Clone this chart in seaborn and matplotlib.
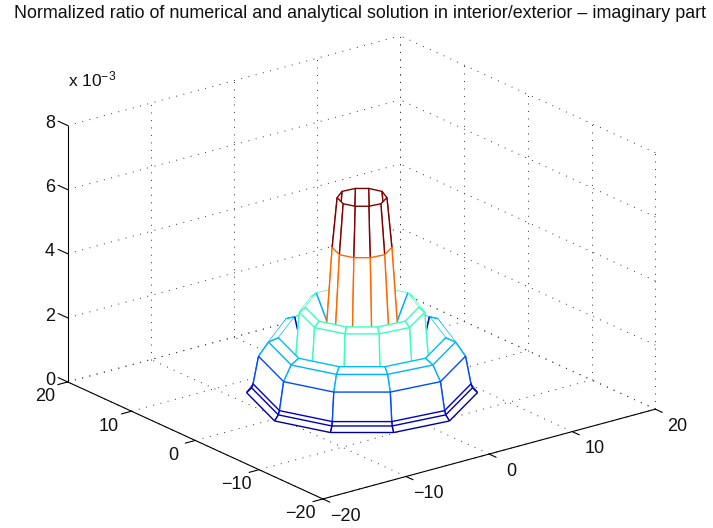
import numpy as np
import seaborn as sns
import matplotlib
matplotlib.use('Agg')
import matplotlib.pyplot as plt
from mpl_toolkits.mplot3d.art3d import Poly3DCollection

# values
angles_deg = [-173.5, -142.5, -112.5, -81.5, -39.5, 2.5, 37.5, 67.5, 102.5, 144.5]
angle_scale = [1.0, 1.0, 1.0, 1.0, 0.95, 1.0, 1.0, 1.0, 1.0, 0.95]
ring_radius = [2.5, 3.0, 3.7, 5.7, 6.3, 6.9, 8.4, 9.4, 10.4, 10.95, 11.1, 11.6]
ring_height = [6.2, 4.65, 1.6, 2.79, 2.64, 0.3, 1.85, 1.72, 1.28, 0.42, 0.3, 0.15]
ring_level = [1.0, 0.8, 0.3, 0.42, 0.42, 0.07, 0.31, 0.3, 0.2, 0.07, 0.05, 0.03]
xy_ticks = [-20, -10, 0, 10, 20]
z_ticks = [0, 2, 4, 6, 8]
title = 'Normalized ratio of numerical and analytical solution in interior/exterior \u2013 imaginary part'

sns.set_style('white')
plt.rcParams['font.family'] = ['Liberation Sans', 'DejaVu Sans']
plt.rcParams['mathtext.fontset'] = 'custom'
plt.rcParams['mathtext.rm'] = 'Liberation Sans'
plt.rcParams['mathtext.default'] = 'regular'

fig = plt.figure(figsize=(7.13, 5.28), dpi=100)
# square axes wider than the figure is tall, or mplot3d clips the corners
ax = fig.add_axes([-4.6 / 713, -105.5 / 528, 1, 713 / 528], projection='3d', proj_type='ortho')
ax.set_box_aspect((420, 420, 274.5), zoom=0.889)
azim = -127.5
ax.view_init(elev=20.6, azim=azim)
ax.set_xlim(-20, 20, view_margin=0)
ax.set_ylim(-20, 20, view_margin=0)
ax.set_zlim(0, 8, view_margin=0)
ax.set_axis_off()
ax.computed_zorder = False

# dotted grid on floor and the two back walls
dots = dict(color='#333333', lw=0.7, ls=(0, (1, 6.7)), zorder=1)
for t in xy_ticks:
    ax.plot([t, t], [-20, 20], [0, 0], **dots)
    ax.plot([-20, 20], [t, t], [0, 0], **dots)
    ax.plot([t, t], [20, 20], [0, 8], **dots)
    ax.plot([20, 20], [t, t], [0, 8], **dots)
for z in z_ticks:
    ax.plot([-20, 20], [20, 20], [z, z], **dots)
    ax.plot([20, 20], [-20, 20], [z, z], **dots)

# mesh, white faces hide what is behind
jet = plt.get_cmap('jet')
theta = np.radians(angles_deg)
scale = np.array(angle_scale)
px = np.cos(theta) * scale
py = np.sin(theta) * scale
r = np.array(ring_radius + [ring_radius[-1]])
h = np.array(ring_height + [ring_height[-1]])
quads = []
n = len(theta)
for i in range(len(ring_radius)):
    for j in range(n):
        k = (j + 1) % n
        a = (r[i + 1] * px[j], r[i + 1] * py[j], h[i + 1])
        b = (r[i] * px[j], r[i] * py[j], h[i])
        c = (r[i] * px[k], r[i] * py[k], h[i])
        d = (r[i + 1] * px[k], r[i + 1] * py[k], h[i + 1])
        # how far the quad faces the camera, for the paint order
        facing = (px[j] + px[k]) * np.cos(np.radians(azim)) + (py[j] + py[k]) * np.sin(np.radians(azim))
        if facing < 0:
            key = (0, -i, facing)
        else:
            key = (1, i, facing)
        quads.append((key, [a, b, c, d], jet(ring_level[i])))

quads.sort(key=lambda q: q[0])
for order, (key, quad, color) in enumerate(quads):
    ax.add_collection3d(Poly3DCollection([quad], closed=False, facecolors='white', edgecolors=[color],
                                         linewidths=1.0, zorder=2 + order * 0.001))

# axis lines and tick marks
solid = dict(color='black', lw=0.8, zorder=3)
ax.plot([-20, -20], [20, -20], [0, 0], **solid)
ax.plot([-20, 20], [-20, -20], [0, 0], **solid)
ax.plot([-20, -20], [20, 20], [0, 8], **solid)
for t in xy_ticks:
    ax.plot([-21.2, -20], [t, t], [0, 0], **solid)
    ax.plot([t, t], [-21.1, -20], [0, 0], **solid)
    lab = str(t).replace('-', '\u2212')
    ax.text(-22.7, t, -0.28, lab, fontsize=13, ha='center', va='center', color='#111111')
    ax.text(t, -23.5, -0.22, lab, fontsize=13, ha='center', va='center', color='#111111')
for z in z_ticks:
    ax.plot([-20, -20], [20, 21.5], [z, z], **solid)
    ax.text(-20, 22.8, z - 0.2, str(z), fontsize=13, ha='center', va='center', color='#111111')

fig.text(360 / 713, 1 - 14 / 528, title, fontsize=12.9, ha='center', va='center', color='#111111')
fig.text(68 / 713, 1 - 86 / 528, 'x 10$^{\u22123}$', fontsize=12.5, ha='left', va='baseline', color='#111111')

fig.savefig('out.png', dpi=100)
